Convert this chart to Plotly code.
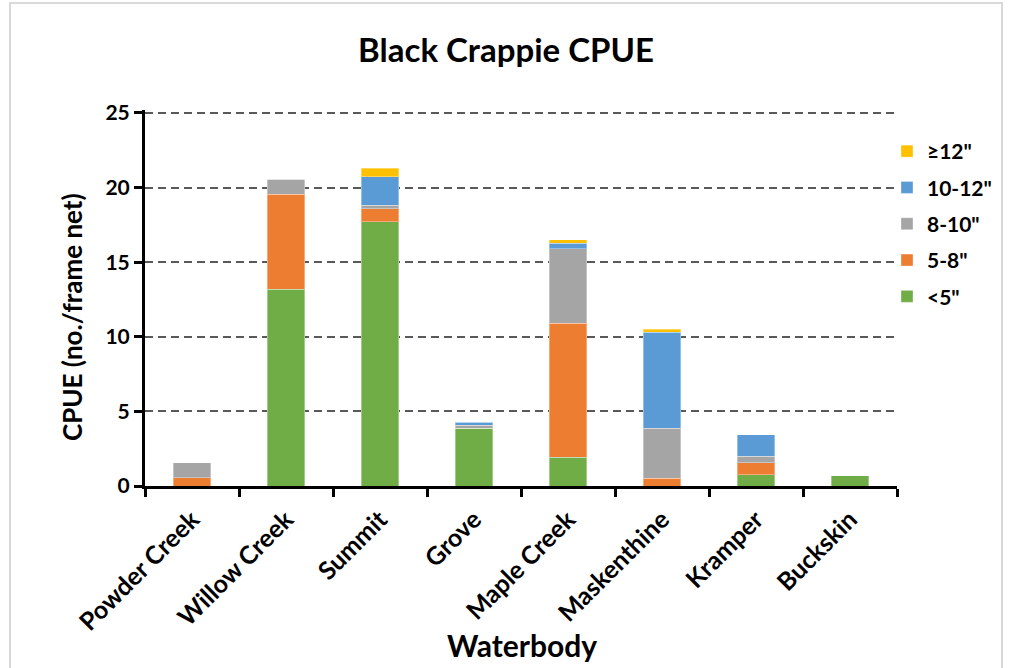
import plotly.graph_objects as go

# Catch per unit effort by size class for each waterbody
waterbodies = ["Powder Creek", "Willow Creek", "Summit", "Grove",
               "Maple Creek", "Maskenthine", "Kramper", "Buckskin"]
lt5 = [0.0, 13.2, 17.7, 3.88, 1.92, 0.0, 0.76, 0.68]
s5_8 = [0.56, 6.34, 0.88, 0.0, 8.98, 0.52, 0.80, 0.0]
s8_10 = [1.0, 1.02, 0.23, 0.20, 5.0, 3.36, 0.43, 0.0]
s10_12 = [0.0, 0.0, 1.9, 0.20, 0.38, 6.41, 1.43, 0.0]
ge12 = [0.0, 0.0, 0.6, 0.0, 0.22, 0.23, 0.0, 0.0]
y_ticks = [0, 5, 10, 15, 20, 25]

series = [
    ('<5"', lt5, "#70AD47"),
    ('5-8"', s5_8, "#ED7D31"),
    ('8-10"', s8_10, "#A5A5A5"),
    ('10-12"', s10_12, "#5B9BD5"),
    ('≥12"', ge12, "#FFC000"),
]

FONT = "Lato, Carlito, Calibri, sans-serif"

fig = go.Figure()
for i, (name, vals, color) in enumerate(series):
    fig.add_trace(go.Bar(
        x=waterbodies, y=vals, name=f"<b>{name}</b>", legendgroup=name,
        legendrank=len(series) - i,
        marker=dict(color=color, line=dict(color="rgba(255,255,255,0.35)", width=1)),
    ))

# plot area: 145..897 px horizontally, 0 at 486 px, 25 at 113 px
L, R, T, B = 145, 113, 110, 182
W, H = 1010 - L - R, 668 - T - B


def px(x):
    return (x - L) / W


def py(y):
    return (668 - B - y) / H


fig.update_layout(
    width=1010, height=668,
    margin=dict(l=L, r=R, t=T, b=B),
    barmode="stack", bargap=0.6,
    plot_bgcolor="white", paper_bgcolor="white",
    font=dict(family=FONT, color="black"),
    title=dict(text="<b>Black Crappie CPUE</b>", x=px(506), xref="paper",
               xanchor="center", y=1 - 50 / 668, yanchor="middle",
               font=dict(size=33, family=FONT, color="black")),
    legend=dict(x=px(887), y=py(131), xanchor="left", yanchor="top",
                traceorder="grouped", tracegroupgap=6,
                font=dict(size=21, family=FONT, color="black"),
                itemwidth=30, bgcolor="rgba(0,0,0,0)"),
    xaxis=dict(
        tickangle=-45, tickson="boundaries", ticks="outside", ticklen=8,
        tickwidth=3, tickcolor="black", showline=True, linewidth=3,
        linecolor="black", tickfont=dict(size=25, family=FONT, color="black"),
        ticktext=[f"<b>{w}</b>" for w in waterbodies], tickvals=waterbodies,
        ticklabelstandoff=6,
    ),
    yaxis=dict(
        range=[0, 25.2], tickvals=y_ticks,
        ticktext=[f"<b>{v}</b>" for v in y_ticks],
        ticks="outside", ticklen=8, tickwidth=3,
        tickcolor="black", showline=True, linewidth=3, linecolor="black",
        showgrid=True, gridcolor="#595959", gridwidth=2, griddash="8px,5px",
        zeroline=False, tickfont=dict(size=21, family=FONT, color="black"),
    ),
    annotations=[
        dict(text="<b>Waterbody</b>", xref="paper", yref="paper",
             x=px(522), y=py(645), xanchor="center", yanchor="middle",
             showarrow=False, font=dict(size=30, family=FONT, color="black")),
        dict(text="<b>CPUE (no./frame net)</b>", xref="paper", yref="paper",
             x=px(72), y=py(317), xanchor="center", yanchor="middle",
             textangle=-90, showarrow=False,
             font=dict(size=26, family=FONT, color="black")),
    ],
    shapes=[dict(type="rect", xref="paper", yref="paper",
                 x0=px(10), x1=px(1002), y0=py(720), y1=py(3),
                 line=dict(color="#D9D9D9", width=2), fillcolor="rgba(0,0,0,0)",
                 layer="below")],
)

fig.write_html("out.html")
